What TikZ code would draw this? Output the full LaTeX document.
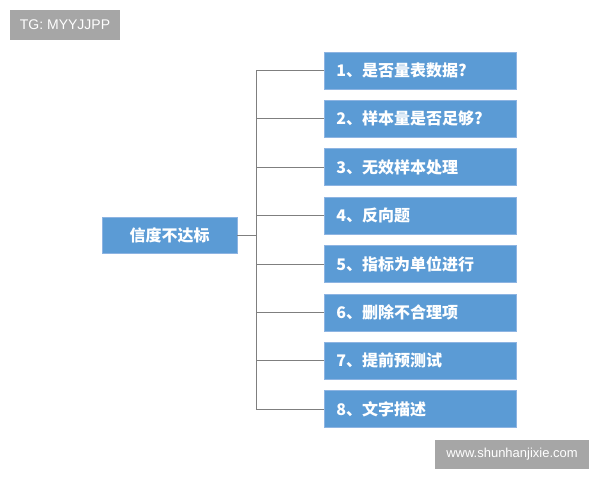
\documentclass[tikz,border=0pt]{standalone}
\usepackage{fontspec}
\setmainfont{Liberation Sans}
\newfontfamily\cjk{Noto Sans CJK SC}
\usepackage{tikz}

\definecolor{boxblue}{HTML}{5B9BD5}
\definecolor{boxedge}{HTML}{8DB4E2}
\definecolor{linegray}{HTML}{7F7F7F}
\definecolor{markgray}{HTML}{A6A6A6}

\tikzset{
  item/.style={rectangle, fill=boxblue, draw=boxedge, line width=0.8pt, text=white,
    font=\cjk\bfseries\fontsize{16}{19}\selectfont, anchor=west, text width=168pt,
    inner xsep=12pt, inner ysep=0pt, minimum height=37pt, align=left},
  rootbox/.style={rectangle, fill=boxblue, draw=boxedge, line width=0.8pt, text=white,
    font=\cjk\bfseries\fontsize{16}{19}\selectfont, minimum width=135pt,
    minimum height=36pt, inner sep=0pt},
  link/.style={draw=linegray, line width=1pt},
  stamp/.style={rectangle, fill=markgray, text=white, inner sep=0pt}
}

\begin{document}
\begin{tikzpicture}[x=1pt, y=-1pt]
    \useasboundingbox (0,0) rectangle (600,480);

    \node[stamp, minimum width=110pt, minimum height=30pt, font=\fontsize{14}{16}\selectfont] (tg) at (65,25) {TG: MYYJJPP};
    \node[stamp, minimum width=154pt, minimum height=29pt, font=\fontsize{13}{15}\selectfont] (web) at (512,454.5) {www.shunhanjixie.com};

    \node[rootbox] (root) at (169.5,235) {信度不达标};

    \node[item] (q1) at (324,70.5) {1、是否量表数据?};
    \node[item] (q2) at (324,118.9) {2、样本量是否足够?};
    \node[item] (q3) at (324,167.3) {3、无效样本处理};
    \node[item] (q4) at (324,215.7) {4、反向题};
    \node[item] (q5) at (324,264.1) {5、指标为单位进行};
    \node[item] (q6) at (324,312.5) {6、删除不合理项};
    \node[item] (q7) at (324,360.9) {7、提前预测试};
    \node[item] (q8) at (324,409.3) {8、文字描述};

    \coordinate (j) at (256,235);
    \coordinate (t1) at (256,70.5);
    \coordinate (t2) at (256,118.9);
    \coordinate (t3) at (256,167.3);
    \coordinate (t4) at (256,215.7);
    \coordinate (t5) at (256,264.1);
    \coordinate (t6) at (256,312.5);
    \coordinate (t7) at (256,360.9);
    \coordinate (t8) at (256,409.3);

    \path[link] (root) edge (j);
    \path[link] (t1) edge (t8);
    \path[link] (t1) edge (q1);
    \path[link] (t2) edge (q2);
    \path[link] (t3) edge (q3);
    \path[link] (t4) edge (q4);
    \path[link] (t5) edge (q5);
    \path[link] (t6) edge (q6);
    \path[link] (t7) edge (q7);
    \path[link] (t8) edge (q8);
\end{tikzpicture}
\end{document}
